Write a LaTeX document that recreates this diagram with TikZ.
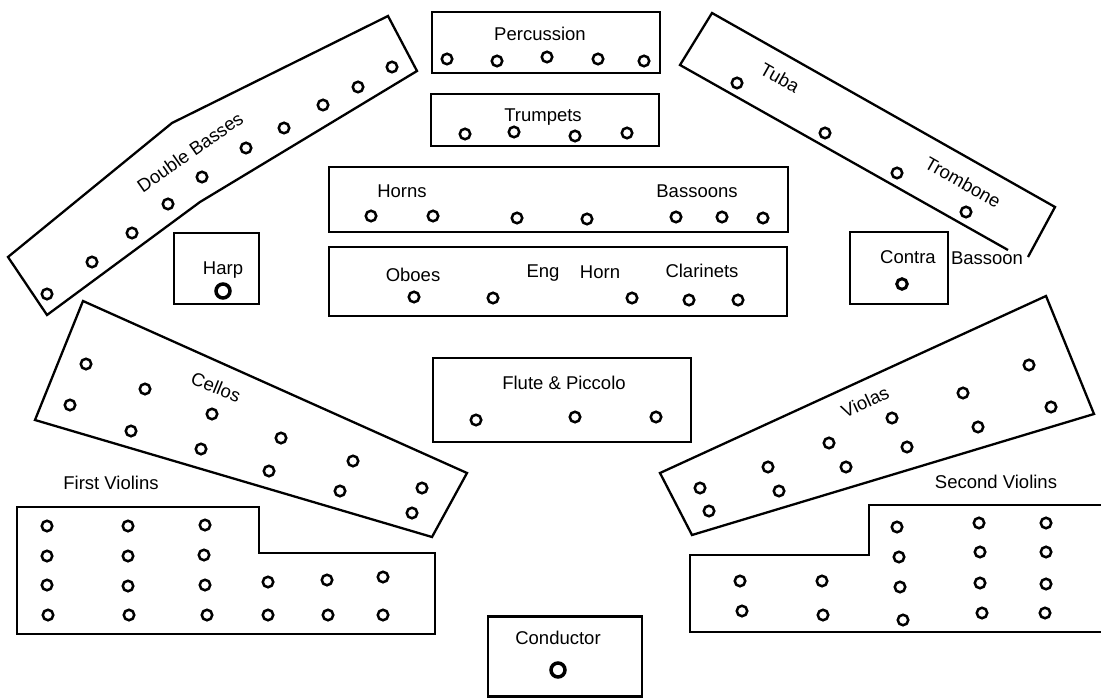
\documentclass[tikz,border=0pt]{standalone}
\usepackage{fontspec}
\setmainfont{Liberation Sans}
\begin{document}
\begin{tikzpicture}[x=1pt,y=-1pt,
  line join=miter,
  box/.style={draw, line width=2.3pt, rectangle, inner sep=0pt},
  outline/.style={draw, line width=2.3pt},
  seat/.style={draw, circle, line width=2.5pt, minimum size=10.5pt, inner sep=0pt},
  bigseat/.style={draw, circle, line width=3.5pt, minimum size=14pt, inner sep=0pt},
  lbl/.style={font=\fontsize{18.5}{21}\selectfont, inner sep=0pt}]
\useasboundingbox (0,0) rectangle (1101,698);

% ---------- Double Basses ----------
\draw[outline] (388,16) -- (417,71) -- (200,202) -- (47,315) -- (8,257) -- (172,123) -- cycle;
\node[lbl, rotate=35] (dbl) at (190,152) {Double Basses};
\foreach \p [count=\i] in {(392,67),(358,87),(323,105),(284,128),(246,148),(202,177),(168,204),(132,233),(92,262),(47,294)}
  \node[seat] (db\i) at \p {};

% ---------- Harp ----------
\node[box, minimum width=85pt, minimum height=71pt] (harpbox) at (216.5,268.5) {};
\node[lbl] (harp) at (223,270) {Harp};
\node[bigseat] (harps) at (223,291) {};

% ---------- Percussion ----------
\node[box, minimum width=228pt, minimum height=61pt] (percbox) at (546,42.5) {};
\node[lbl] (perc) at (540,34) {Percussion};
\foreach \p [count=\i] in {(447,59),(497,61),(547,57),(598,59),(644,61)}
  \node[seat] (pc\i) at \p {};

% ---------- Trumpets ----------
\node[box, minimum width=228pt, minimum height=52pt] (trpbox) at (545,120) {};
\node[lbl] (trp) at (543,117) {Trumpets};
\foreach \p [count=\i] in {(465,134),(514,132),(575,136),(627,133)}
  \node[seat] (tp\i) at \p {};

% ---------- Horns / Bassoons ----------
\node[box, minimum width=459pt, minimum height=65pt] (hornbox) at (558.5,199.5) {};
\node[lbl] (horns) at (402,191) {Horns};
\node[lbl] (bsn) at (697,191) {Bassoons};
\foreach \p [count=\i] in {(371,216),(433,216),(517,218),(587,219),(676,217),(722,217),(763,218)}
  \node[seat] (hb\i) at \p {};

% ---------- Oboes / Eng Horn / Clarinets ----------
\node[box, minimum width=458pt, minimum height=69pt] (oboebox) at (558,281.5) {};
\node[lbl] (oboes) at (413,275) {Oboes};
\node[lbl] (eng) at (543,273) {Eng};
\node[lbl] (ehorn) at (600,272) {Horn};
\node[lbl] (clar) at (702,271) {Clarinets};
\foreach \p [count=\i] in {(414,297),(493,298),(632,298),(689,300),(738,300)}
  \node[seat] (ob\i) at \p {};

% ---------- Tuba / Trombone ----------
\draw[outline] (1008,250) -- (680,65) -- (712,13) -- (1055,207) -- (1028,257);
\node[lbl, rotate=-29.5] (tuba) at (780,78) {Tuba};
\node[lbl, rotate=-29.5] (tbn) at (963,182) {Trombone};
\foreach \p [count=\i] in {(737,83),(825,133),(897,173),(966,212)}
  \node[seat] (tb\i) at \p {};

% ---------- Contra Bassoon ----------
\node[box, minimum width=98pt, minimum height=72pt] (cbbox) at (899,268) {};
\node[lbl] (contra) at (908,257) {Contra};
\node[lbl] (cbsn) at (987,258) {Bassoon};
\node[seat, line width=3pt] (cbs) at (902,284) {};

% ---------- Cellos ----------
\draw[outline] (83,301) -- (467,473) -- (432,537) -- (35,420) -- cycle;
\node[lbl, rotate=-22] (cellos) at (216,387) {Cellos};
\foreach \p [count=\i] in {(86,364),(145,389),(70,405),(212,414),(131,431),(281,438),(201,449),(353,461),(269,471),(422,488),(340,491),(412,513)}
  \node[seat] (vc\i) at \p {};

% ---------- Flute & Piccolo ----------
\node[box, minimum width=258pt, minimum height=84pt] (flbox) at (562,400) {};
\node[lbl] (fl) at (564,383) {Flute \& Piccolo};
\foreach \p [count=\i] in {(476,420),(575,417),(656,417)}
  \node[seat] (fp\i) at \p {};

% ---------- Violas ----------
\draw[outline] (660,473) -- (1046,296) -- (1094,414) -- (692,535) -- cycle;
\node[lbl, rotate=25] (violas) at (865,402) {Violas};
\foreach \p [count=\i] in {(1029,365),(963,393),(1051,407),(892,418),(978,427),(829,443),(907,447),(768,467),(846,467),(700,488),(779,491),(709,511)}
  \node[seat] (va\i) at \p {};

% ---------- First Violins ----------
\node[lbl] (v1) at (111,483) {First Violins};
\draw[outline] (17,507) -- (259,507) -- (259,553) -- (435,553) -- (435,634) -- (17,634) -- cycle;
\foreach \p [count=\i] in {(47,526),(47,556),(47,585),(48,615),
                           (128,526),(128,556),(128,586),(129,615),
                           (205,525),(204,555),(205,585),(207,615),
                           (268,582),(268,615),(327,580),(328,615),(383,577),(383,615)}
  \node[seat] (fv\i) at \p {};

% ---------- Second Violins ----------
\node[lbl] (v2) at (996,482) {Second Violins};
\draw[outline] (1101,505) -- (869,505) -- (869,555) -- (690,555) -- (690,632) -- (1101,632);
\foreach \p [count=\i] in {(740,581),(742,611),(822,581),(823,615),
                           (897,527),(899,557),(900,587),(903,620),
                           (979,523),(980,552),(980,583),(982,613),
                           (1046,523),(1046,552),(1046,584),(1045,613)}
  \node[seat] (sv\i) at \p {};

% ---------- Conductor ----------
\node[box, minimum width=154pt, minimum height=80pt] (condbox) at (565,656.5) {};
\node[lbl] (cond) at (558,638) {Conductor};
\node[bigseat] (conds) at (558,670) {};
\end{tikzpicture}
\end{document}
